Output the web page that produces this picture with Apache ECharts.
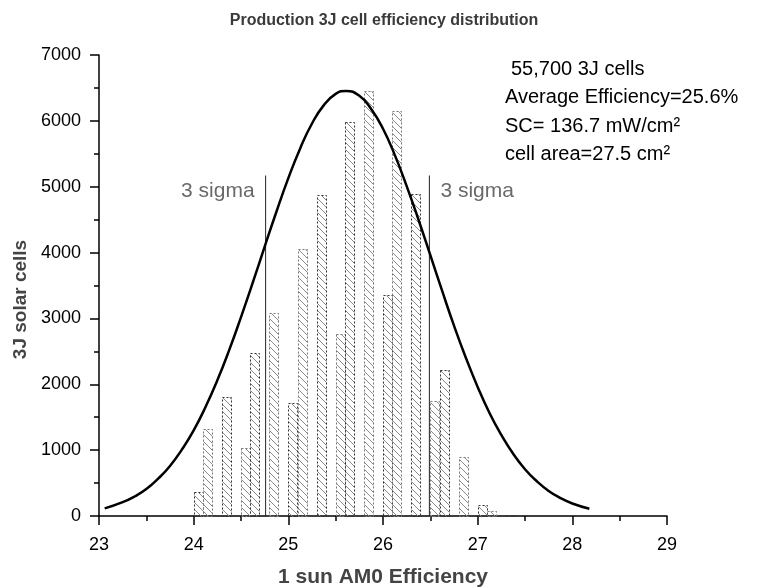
<!DOCTYPE html>
<html>
<head>
<meta charset="utf-8">
<script src="https://cdn.jsdelivr.net/npm/echarts@6/dist/echarts.min.js"></script>
<style>html,body{margin:0;padding:0;background:#fff}#c{width:768px;height:588px}</style>
</head>
<body>
<div id="c"></div>
<script>
// ---- data ----
const binStarts = [24.0, 24.1, 24.3, 24.5, 24.6, 24.8, 25.0, 25.1, 25.3, 25.5, 25.6, 25.8, 26.0, 26.1, 26.3, 26.5, 26.6, 26.8, 27.0, 27.1, 27.3];
const binCounts = [370, 1320, 1800, 1040, 2470, 3080, 1710, 4050, 4870, 2760, 5990, 6460, 3360, 6150, 4890, 1750, 2210, 900, 160, 80, 20];
const binWidth = 0.1;

const curveX = [23.06, 23.25, 23.375, 23.5, 23.625, 23.75, 23.875, 24.0, 24.125, 24.25, 24.375, 24.5, 24.625, 24.75, 24.875, 25.0, 25.125, 25.25, 25.375, 25.5, 25.61, 25.75, 25.875, 26.0, 26.125, 26.25, 26.375, 26.5, 26.625, 26.75, 26.875, 27.0, 27.125, 27.25, 27.375, 27.5, 27.625, 27.75, 27.875, 28.0, 28.18];
const curveY = [115, 210, 296, 410, 567, 760, 1007, 1300, 1655, 2060, 2518, 3020, 3546, 4090, 4624, 5130, 5582, 5960, 6239, 6410, 6455, 6380, 6181, 5880, 5480, 5010, 4498, 3960, 3417, 2890, 2404, 1960, 1565, 1230, 944, 710, 527, 380, 272, 190, 110];

const sigmaX = [24.76, 26.49];
const sigmaTop = 5170;
const sigmaLabel = '3 sigma';

const xTicks = [23, 29, 1];
const yTicks = [0, 7000, 1000];

const titleText = 'Production 3J cell efficiency distribution';
const xName = '1 sun AM0 Efficiency';
const yName = '3J solar cells';
const notes = ['55,700 3J cells', 'Average Efficiency=25.6%', 'SC= 136.7 mW/cm\u00B2', 'cell area=27.5 cm\u00B2'];

// ---- chart ----
const FONT = 'Liberation Sans, Arial, sans-serif';
const pc = document.createElement('canvas');
pc.width = 7; pc.height = 7;
const g = pc.getContext('2d');
g.strokeStyle = '#8a8a8a'; g.lineWidth = 1;
g.beginPath(); g.moveTo(0, 0); g.lineTo(7, 7); g.stroke();
const hatch = { image: pc, repeat: 'repeat' };

const chart = echarts.init(document.getElementById('c'), null, { renderer: 'canvas' });

const axisCommon = {
  axisLine: { show: true, lineStyle: { color: '#000', width: 1.5 } },
  axisTick: { show: true, length: 9, lineStyle: { color: '#000', width: 1.5 } },
  minorTick: { show: true, splitNumber: 2, length: 5, lineStyle: { color: '#000', width: 1.5 } },
  splitLine: { show: false },
  minorSplitLine: { show: false },
  nameLocation: 'middle'
};

const option = {
  backgroundColor: '#fff',
  animation: false,
  title: {
    text: titleText, left: 'center', top: 8,
    textStyle: { fontFamily: FONT, fontSize: 16, fontWeight: 'bold', color: '#3a3a3a' }
  },
  grid: { left: 99, right: 101, top: 55, bottom: 72, containLabel: false, outerBoundsMode: 'none' },
  xAxis: Object.assign({}, axisCommon, {
    type: 'value', min: xTicks[0], max: xTicks[1], interval: xTicks[2],
    name: xName, nameGap: 51,
    nameTextStyle: { fontFamily: FONT, fontSize: 21, fontWeight: 'bold', color: '#444' },
    axisLabel: { fontFamily: FONT, fontSize: 18, color: '#000', margin: 20 }
  }),
  yAxis: Object.assign({}, axisCommon, {
    type: 'value', min: yTicks[0], max: yTicks[1], interval: yTicks[2],
    name: yName, nameGap: 60,
    nameTextStyle: { fontFamily: FONT, fontSize: 19, fontWeight: 'bold', color: '#444', padding: [0, 28, 0, 0] },
    axisLabel: { fontFamily: FONT, fontSize: 18, color: '#000', margin: 18, formatter: (v) => String(v) }
  }),
  graphic: notes.map((t, i) => ({
    type: 'text', left: i === 0 ? 511 : 505, top: [59, 87, 116, 144][i],
    style: { text: t, font: '20px ' + FONT, fill: '#000' }
  })),
  series: [
    {
      type: 'custom',
      data: binStarts.map((x, i) => [x, binCounts[i]]),
      encode: { x: 0, y: 1 },
      renderItem: function (params, api) {
        const x0 = api.value(0), h = api.value(1);
        const p0 = api.coord([x0, h]);
        const p1 = api.coord([x0 + binWidth, 0]);
        return {
          type: 'rect',
          shape: { x: Math.round(p0[0]) + 0.5, y: Math.round(p0[1]) + 0.5, width: Math.round(p1[0] - p0[0]), height: Math.round(p1[1] - p0[1]) },
          style: { fill: hatch, stroke: params.dataIndex % 2 ? '#777' : '#333', lineWidth: 1, lineDash: [2, 2] }
        };
      },
      z: 2
    },
    {
      type: 'line',
      data: curveX.map((x, i) => [x, curveY[i]]),
      smooth: true, symbol: 'none',
      lineStyle: { color: '#000', width: 2.5 },
      z: 4
    },
    ...sigmaX.map((x) => ({
      type: 'line',
      data: [[x, 0], [x, sigmaTop]],
      symbol: 'none',
      lineStyle: { color: '#222', width: 1 },
      z: 3
    })),
    {
      type: 'scatter',
      symbolSize: 0,
      data: sigmaX.map((x, i) => ({
        value: [x, sigmaTop],
        label: {
          show: true, formatter: sigmaLabel,
          position: i === 0 ? 'left' : 'right',
          distance: 11, offset: [0, 16],
          fontFamily: FONT, fontSize: 21, color: '#444'
        }
      })),
      z: 5
    }
  ]
};
chart.setOption(option);
</script>
</body>
</html>
